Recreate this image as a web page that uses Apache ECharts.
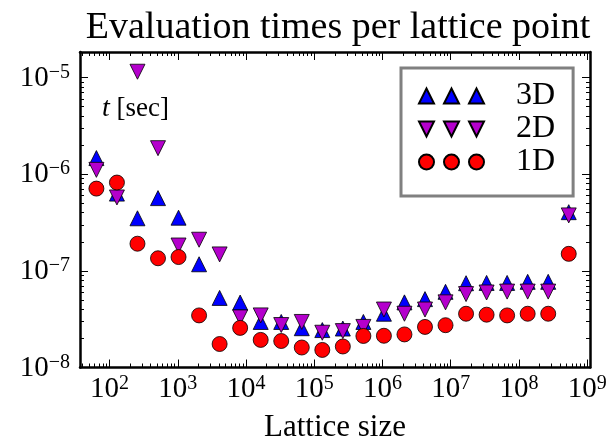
<!DOCTYPE html>
<html>
<head>
<meta charset="utf-8">
<script src="https://cdn.jsdelivr.net/npm/echarts@6/dist/echarts.min.js"></script>
<style>html,body{margin:0;padding:0;background:#fff}#c{width:616px;height:448px}</style>
</head>
<body>
<div id="c"></div>
<script>
const latticeSizes = [64,128,256,512,1024,2048,4096,8192,16384,32768,65536,131072,262144,524288,1048576,2097152,4194304,8388608,16777216,33554432,67108864,134217728,268435456,536870912];
const times3D = [1.47e-6,6.3e-7,3.5e-7,5.66e-7,3.55e-7,1.17e-7,5.25e-8,4.7e-8,2.96e-8,2.96e-8,2.55e-8,2.44e-8,2.53e-8,2.96e-8,3.6e-8,4.72e-8,5.1e-8,6.07e-8,7.45e-8,7.5e-8,7.5e-8,7.7e-8,7.7e-8,4.05e-7];
const times2D = [1.11e-6,5.75e-7,1.15e-5,1.86e-6,1.83e-7,2.1e-7,1.48e-7,3.3e-8,3.46e-8,2.75e-8,2.96e-8,2.29e-8,2.38e-8,2.63e-8,3.98e-8,3.6e-8,3.98e-8,4.72e-8,5.75e-8,5.97e-8,6.1e-8,6.1e-8,6.1e-8,3.75e-7];
const times1D = [7.1e-7,8.2e-7,1.91e-7,1.35e-7,1.39e-7,3.46e-8,1.75e-8,2.57e-8,1.93e-8,1.88e-8,1.61e-8,1.52e-8,1.65e-8,2.12e-8,2.13e-8,2.2e-8,2.63e-8,2.74e-8,3.6e-8,3.52e-8,3.46e-8,3.6e-8,3.6e-8,1.5e-7];
const seriesNames = ['3D','2D','1D'];
const xMin = 36.8, xMax = 1.1e9, yMin = 1e-8, yMax = 1.84e-5;

const FONT = 'Liberation Serif';
const pair = (xs, ys) => xs.map((x, i) => [x, ys[i]]);
function powLabel(v) {
  const e = Math.round(Math.log10(v));
  if (Math.abs(v / Math.pow(10, e) - 1) > 1e-6) return '';
  return '{b|10}{s|' + String(e).replace('-', '\u2212') + '}';
}
const rich = {
  b: {fontSize: 29, fontFamily: FONT, color: '#000', lineHeight: 30, verticalAlign: 'bottom'},
  s: {fontSize: 20, fontFamily: FONT, color: '#000', lineHeight: 20, verticalAlign: 'top'}
};
function axisBase() {
  return {
    axisLine: {show: true, lineStyle: {color: '#000', width: 2.5}},
    axisTick: {show: true, inside: true, length: 8, lineStyle: {color: '#000', width: 1}},
    minorTick: {show: true, splitNumber: 9, length: 4, lineStyle: {color: '#000', width: 1}},
    splitLine: {show: false},
    minorSplitLine: {show: false}
  };
}
const triUp = 'path://M0,15 L7.5,0 L15,15 Z M25,15 L32.5,0 L40,15 Z M50,15 L57.5,0 L65,15 Z';
const triDown = 'path://M0,0 L15,0 L7.5,15 Z M25,0 L40,0 L32.5,15 Z M50,0 L65,0 L57.5,15 Z';
const circles = 'path://M0,7.5 A7.5,7.5 0 1,1 15,7.5 A7.5,7.5 0 1,1 0,7.5 Z M25,7.5 A7.5,7.5 0 1,1 40,7.5 A7.5,7.5 0 1,1 25,7.5 Z M50,7.5 A7.5,7.5 0 1,1 65,7.5 A7.5,7.5 0 1,1 50,7.5 Z';

const chart = echarts.init(document.getElementById('c'), null, {renderer: 'canvas'});
chart.setOption({
  animation: false,
  backgroundColor: '#fff',
  title: {
    text: 'Evaluation times per lattice point',
    left: 333, top: 4, textAlign: 'center',
    textStyle: {fontFamily: FONT, fontSize: 38, fontWeight: 'normal', color: '#000'}
  },
  grid: {left: 80, right: 26, top: 52, bottom: 74, containLabel: false},
  legend: {
    left: 401, top: 68, orient: 'vertical',
    backgroundColor: '#fff', borderColor: '#808080', borderWidth: 3,
    padding: [12, 18, 18, 17], itemGap: 1, itemWidth: 65, itemHeight: 15,
    textStyle: {fontFamily: FONT, fontSize: 32, color: '#000', lineHeight: 30, padding: [0, 0, 0, 27]},
    data: [
      {name: '3D', icon: triUp},
      {name: '2D', icon: triDown},
      {name: '1D', icon: circles}
    ]
  },
  graphic: [{
    type: 'text', left: 102, top: 95,
    style: {
      text: '{i|t} [sec]',
      rich: {i: {fontStyle: 'italic', fontFamily: FONT, fontSize: 28}},
      fontFamily: FONT, fontSize: 27, fill: '#000'
    }
  }],
  xAxis: [
    Object.assign(axisBase(), {
      type: 'log', min: xMin, max: xMax, position: 'bottom',
      name: 'Lattice size', nameLocation: 'middle', nameGap: 60,
      nameTextStyle: {fontFamily: FONT, fontSize: 31, color: '#000', verticalAlign: 'middle'},
      axisLabel: {show: true, margin: 6, formatter: powLabel, rich: rich, showMinLabel: true, showMaxLabel: true}
    }),
    Object.assign(axisBase(), {
      type: 'log', min: xMin, max: xMax, position: 'top', axisLabel: {show: false}
    })
  ],
  yAxis: [
    Object.assign(axisBase(), {
      type: 'log', min: yMin, max: yMax, position: 'left',
      axisLabel: {show: true, margin: 10, formatter: powLabel, rich: rich}
    }),
    Object.assign(axisBase(), {
      type: 'log', min: yMin, max: yMax, position: 'right', axisLabel: {show: false}
    })
  ],
  series: [
    {name: seriesNames[0], type: 'scatter', data: pair(latticeSizes, times3D), symbol: 'triangle', symbolSize: 15,
     itemStyle: {color: '#0000ff', borderColor: '#000', borderWidth: 0.8, opacity: 1}},
    {name: seriesNames[1], type: 'scatter', data: pair(latticeSizes, times2D), symbol: 'triangle', symbolRotate: 180, symbolSize: 15,
     itemStyle: {color: '#b400cc', borderColor: '#000', borderWidth: 0.8, opacity: 1}},
    {name: seriesNames[2], type: 'scatter', data: pair(latticeSizes, times1D), symbol: 'circle', symbolSize: 15,
     itemStyle: {color: '#ff0000', borderColor: '#000', borderWidth: 0.8, opacity: 1}}
  ]
});
</script>
</body>
</html>
